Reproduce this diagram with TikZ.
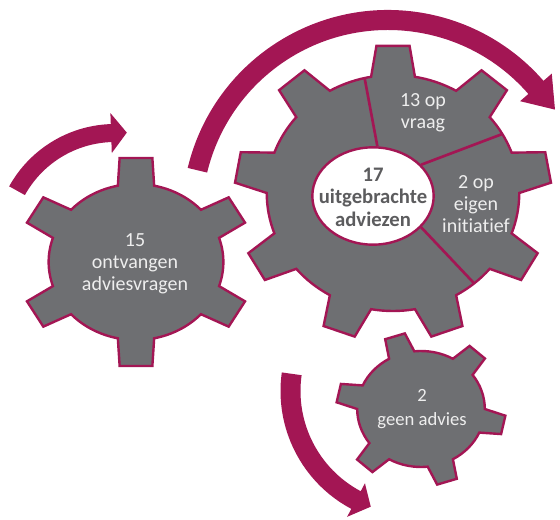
\documentclass[tikz,border=0pt]{standalone}
\usepackage{fontspec}
\setmainfont{Carlito}[Ligatures=NoCommon]
\usetikzlibrary{shapes.geometric}
\definecolor{berry}{RGB}{163,22,84}
\definecolor{cog}{RGB}{110,111,114}
\definecolor{ink}{RGB}{92,92,94}
\definecolor{chalk}{RGB}{238,238,238}
\tikzset{
	gear/.style={fill=cog, draw=berry, line width=1.8pt, line join=miter},
	cut/.style={draw=berry, line width=2pt},
	hub/.style={shape=ellipse, draw=berry, fill=white, line width=1.8pt, minimum width=91pt, minimum height=73pt, inner sep=0pt},
	lbl/.style={text=chalk, align=center, font=\fontsize{15}{16.5}\selectfont},
	hubtext/.style={text=ink, align=center, font=\bfseries\fontsize{15.5}{16.8}\selectfont},
	turn/.style={fill=berry}
}
\begin{document}
\begin{tikzpicture}[x=0.75pt, y=-0.75pt]
	\clip (0,0) rectangle (560,520);

	\begin{scope}[shift={(115,245)}]
		\fill[turn] (209:121) arc[start angle=209, end angle=268, radius=121] -- (268:132) -- (276:113) -- (268:92) -- (268:103) arc[start angle=268, end angle=209, radius=103] -- cycle;
	\end{scope}
	\begin{scope}[shift={(388,216)}]
		\fill[turn] (193.5:206) arc[start angle=193.5, end angle=319, radius=206] -- (319:217) -- (327.5:198) -- (319:175) -- (319:186) arc[start angle=319, end angle=193.5, radius=186] -- cycle;
	\end{scope}
	\begin{scope}[shift={(414,391)}]
		\fill[turn] (188:133.5) arc[start angle=188, end angle=118, radius=133.5] -- (118:142.5) -- (110.5:123.5) -- (118:104.5) -- (118:113.5) arc[start angle=118, end angle=188, radius=113.5] -- cycle;
	\end{scope}

	\begin{scope}[shift={(136,262)}, xscale=1.12]
		\draw[gear] (258:78) \foreach \a in {270,330,30,90,150,210} { -- (\a-8:105) -- (\a+8:105) -- (\a+12:78) arc[start angle=\a+12, end angle=\a+48, radius=78] } -- cycle;
	\end{scope}
	\begin{scope}[shift={(393,193)}, xscale=1.07]
		\draw[gear] (260:118) \foreach \a in {270,310,350,30,70,110,150,190,230} { -- (\a-6:148) -- (\a+6:148) -- (\a+10:118) arc[start angle=\a+10, end angle=\a+30, radius=118] } -- cycle;
		\coordinate (cutA) at (257:118);
		\coordinate (cutB) at (330:118);
		\coordinate (cutC) at (50:118);
	\end{scope}
	\begin{scope}[shift={(421,409)}, xscale=1.1]
		\draw[gear] (240:58) \foreach \a in {252,312,12,72,132,192} { -- (\a-7:77) -- (\a+7:77) -- (\a+12:58) arc[start angle=\a+12, end angle=\a+48, radius=58] } -- cycle;
	\end{scope}

	\node[hub] (hub) at (373,196) {};
	\draw[cut] (hub.85) -- (cutA);
	\draw[cut] (hub.33) -- (cutB);
	\draw[cut] (hub.-33) -- (cutC);

	\node[hubtext] (total) at (373,197) {17\\uitgebrachte\\adviezen};
	\node[lbl] (asked) at (135,264) {15\\ontvangen\\adviesvragen};
	\node[lbl] (onreq) at (423,113) {13 op\\vraag};
	\node[lbl] (own) at (476,204) {2 op\\eigen\\initiatief};
	\node[lbl, font=\fontsize{14}{18}\selectfont] (none) at (422,409) {2\\geen advies};
\end{tikzpicture}
\end{document}
